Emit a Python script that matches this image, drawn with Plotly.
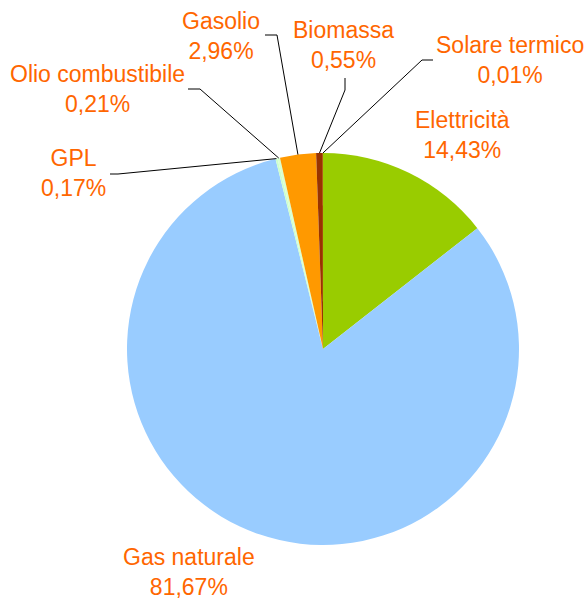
import math
import plotly.graph_objects as go

labels = ["Elettricità", "Gas naturale", "GPL", "Olio combustibile", "Gasolio", "Biomassa", "Solare termico"]
values = [14.43, 81.67, 0.17, 0.21, 2.96, 0.55, 0.01]
colors = ["#99CC00", "#99CCFF", "#CCFFCC", "#D9FFD0", "#FF9900", "#993300", "#FFCC00"]

W, H = 588, 599
CX, CY, R = 323, 349, 196  # pie centre / radius in px

# label block centres (px) and leader line knots (px), layout only
label_pos = {
    "Elettricità": (462, 135),
    "Gas naturale": (189, 572),
    "GPL": (73, 173),
    "Olio combustibile": (97, 89),
    "Gasolio": (221, 36),
    "Biomassa": (343, 45),
    "Solare termico": (510, 60),
}
leader_knots = {
    "GPL": [(110, 174), (118, 174)],
    "Olio combustibile": [(188, 89), (200, 89)],
    "Gasolio": [(265, 35), (277, 35)],
    "Biomassa": [(345, 78), (345, 90)],
    "Solare termico": [(433, 60), (422, 60)],
}

def px2paper(x, y):
    return x / W, 1 - y / H

fig = go.Figure()
x0, y0 = px2paper(CX - R, CY + R)
x1, y1 = px2paper(CX + R, CY - R)
fig.add_trace(go.Pie(
    labels=labels, values=values, sort=False, direction="clockwise", rotation=0,
    marker=dict(colors=colors, line=dict(width=0)),
    textinfo="none", hoverinfo="label+percent", showlegend=False,
    domain=dict(x=[x0, x1], y=[y0, y1]),
))

total = sum(values)
cum = 0.0
shapes = []
annotations = []
for lab, v in zip(labels, values):
    mid = (cum + v / 2) / total
    cum += v
    th = 2 * math.pi * mid
    ex, ey = CX + R * math.sin(th), CY - R * math.cos(th)
    if lab in leader_knots:
        pts = leader_knots[lab] + [(ex, ey)]
        for (ax, ay), (bx, by) in zip(pts[:-1], pts[1:]):
            p0 = px2paper(ax, ay)
            p1 = px2paper(bx, by)
            shapes.append(dict(type="line", xref="paper", yref="paper",
                               x0=p0[0], y0=p0[1], x1=p1[0], y1=p1[1],
                               line=dict(color="black", width=1)))
    lx, ly = px2paper(*label_pos[lab])
    pct = f"{v:.2f}".replace(".", ",") + "%"
    annotations.append(dict(
        x=lx, y=ly, xref="paper", yref="paper", xanchor="center", yanchor="middle",
        text=f"{lab}<br>{pct}", showarrow=False, align="center", borderpad=0,
        font=dict(family="Liberation Sans, Arial", size=23, color="#FF6600"),
    ))

fig.update_layout(
    width=W, height=H, margin=dict(l=0, r=0, t=0, b=0),
    paper_bgcolor="white", plot_bgcolor="white",
    shapes=shapes, annotations=annotations,
)
fig.write_html("out.html", config={"displayModeBar": False},
               post_script="document.body.style.margin='0';document.body.style.overflow='hidden';")
